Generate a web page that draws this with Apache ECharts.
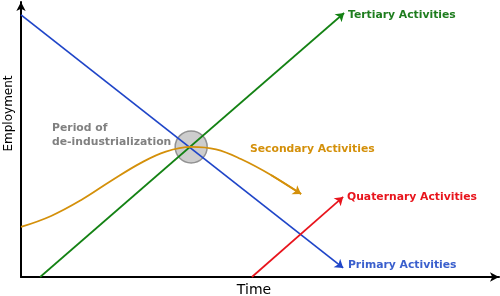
<!DOCTYPE html>
<html>
<head>
<meta charset="utf-8">
<script src="https://cdn.jsdelivr.net/npm/echarts@6/dist/echarts.min.js"></script>
<style>html,body{margin:0;padding:0;background:#fff}#c{width:500px;height:296px}</style>
</head>
<body>
<div id="c"></div>
<script>
// Time (x) and Employment (y) in arbitrary units, 0..100
const primary = [[0, 95.3], [67.4, 3.3]];
const tertiary = [[4.0, 0], [67.6, 96.0]];
const quaternary = [[48.3, 0], [67.4, 29.1]];
const secondary = [[0, 18.2], [6.3, 22.2], [12.6, 28.0], [18.8, 34.9], [25.1, 41.5], [30.3, 45.6], [35.6, 47.3], [40.8, 46.4], [46.0, 42.9], [52.3, 37.1], [58.6, 30.2]];
const deindustrialization = [35.6, 47.3];
const labelTexts = ['Tertiary Activities', 'Secondary Activities', 'Quaternary Activities', 'Primary Activities', 'Period of\nde-industrialization'];
const labelX = [68.4, 47.9, 68.2, 68.4, 6.5];
const labelY = [95.3, 46.5, 29.1, 4.4, 51.6];

const labelColors = ['#1e7d1e', '#d4900a', '#e8141c', '#3a5fcd', '#808080'];
const FONT = 'DejaVu Sans';

function arrowLine(coords, color) {
  return {
    type: 'lines', coordinateSystem: 'cartesian2d', polyline: false, z: 3,
    symbol: ['none', 'arrow'], symbolSize: 8,
    lineStyle: { color: color, width: 1.7, opacity: 1 },
    data: [{ coords: coords }], silent: true
  };
}

const chart = echarts.init(document.getElementById('c'), null, { renderer: 'canvas' });
chart.setOption({
  animation: false,
  grid: { left: 21, right: 1, top: 2, bottom: 19, containLabel: false, outerBoundsMode: 'none' },
  xAxis: {
    type: 'value', min: 0, max: 100,
    name: 'Time', nameLocation: 'middle', nameGap: 6,
    nameTextStyle: { fontFamily: FONT, fontSize: 14, color: '#000', padding: [0, 12, 0, 0] },
    axisLine: { show: true, symbol: ['none', 'arrow'], symbolSize: [7, 9], lineStyle: { color: '#000', width: 2 } },
    axisTick: { show: false }, axisLabel: { show: false }, splitLine: { show: false }
  },
  yAxis: {
    type: 'value', min: 0, max: 100,
    name: 'Employment', nameLocation: 'middle', nameGap: 6,
    nameTextStyle: { fontFamily: FONT, fontSize: 12, color: '#000', padding: [0, 0, 0, 52] },
    axisLine: { show: true, symbol: ['none', 'arrow'], symbolSize: [7, 9], lineStyle: { color: '#000', width: 2 } },
    axisTick: { show: false }, axisLabel: { show: false }, splitLine: { show: false }
  },
  series: [
    {
      type: 'scatter', z: 1, silent: true,
      symbol: 'circle', symbolSize: 32,
      itemStyle: { color: 'rgb(200,200,200)', opacity: 0.9, borderColor: '#8a8a8a', borderWidth: 1.5 },
      data: [deindustrialization]
    },
    arrowLine(primary, '#1f45c8'),
    arrowLine(tertiary, '#148214'),
    arrowLine(quaternary, '#e8141c'),
    {
      type: 'line', z: 4, silent: true, smooth: 0.4, symbol: 'none',
      lineStyle: { color: '#d4900a', width: 1.8 },
      data: secondary,
      markLine: {
        silent: true, symbol: ['none', 'arrow'], symbolSize: 8,
        label: { show: false },
        lineStyle: { color: '#d4900a', width: 1.8, type: 'solid' },
        data: [[{ coord: secondary[secondary.length - 2] }, { coord: secondary[secondary.length - 1] }]]
      }
    },
    {
      type: 'scatter', z: 5, silent: true, symbolSize: 0,
      itemStyle: { opacity: 1 },
      data: labelTexts.map((t, i) => ({
        value: [labelX[i], labelY[i]],
        label: {
          show: true, position: 'right', distance: 0, formatter: t,
          fontFamily: FONT, fontWeight: 'bold', fontSize: 10.8, lineHeight: 14,
          color: labelColors[i], opacity: 1, align: 'left', verticalAlign: 'middle'
        }
      }))
    }
  ]
});
</script>
</body>
</html>
